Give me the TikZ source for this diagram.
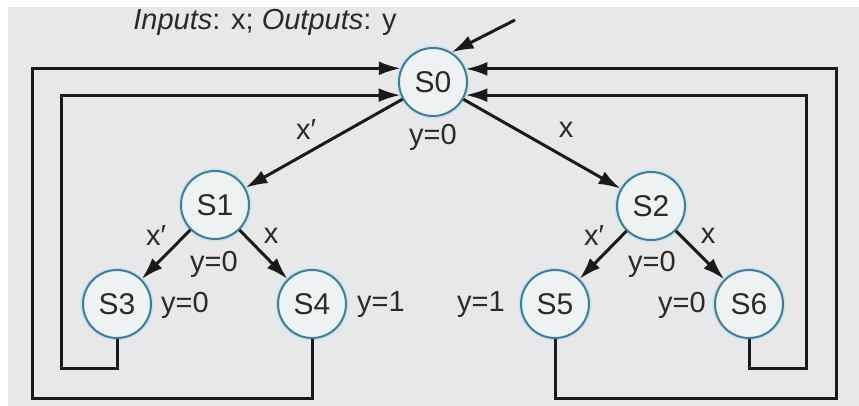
\documentclass[tikz,border=0pt]{standalone}
\usepackage{fontspec}
\setmainfont{Liberation Sans}
\usetikzlibrary{arrows.meta}
\definecolor{bggray}{HTML}{E8E8E8}
\definecolor{stateblue}{HTML}{3F7E99}
\definecolor{statefill}{HTML}{EEF2F3}
\definecolor{halo}{HTML}{C6E4EE}
\definecolor{textgray}{HTML}{2A2A2A}
\definecolor{wirecol}{HTML}{1A1A1A}
\begin{document}
\begin{tikzpicture}[x=1pt,y=-1pt,
  state/.style={circle, minimum size=68pt, inner sep=0pt, draw=stateblue,
    line width=2pt, fill=statefill, text=textgray,
    font=\fontsize{30}{32}\selectfont,
    preaction={draw=halo, line width=5pt}},
  lbl/.style={font=\fontsize{29}{31}\selectfont, text=textgray, inner sep=0pt},
  wire/.style={line width=3pt, draw=wirecol},
  arr/.style={wire, -{Latex[length=22pt,width=14pt]}}
]
% canvas and background
\useasboundingbox (0,0) rectangle (859,406);
\fill[white] (0,0) rectangle (859,406);
\fill[bggray] (8,7) rectangle (859,406);

% heading
\node[lbl] (title) at (265,22) {\textit{Inputs}: x; \textit{Outputs}: y};

% states
\node[state] (s0) at (433,82) {S0};
\node[state] (s1) at (215,205) {S1};
\node[state] (s2) at (651,206) {S2};
\node[state] (s3) at (117,304) {S3};
\node[state] (s4) at (312,304) {S4};
\node[state] (s5) at (555,304) {S5};
\node[state] (s6) at (749,304) {S6};

% outputs
\node[lbl] (o0) at (433,137) {y=0};
\node[lbl] (o1) at (214,264) {y=0};
\node[lbl] (o2) at (652,264) {y=0};
\node[lbl] (o3) at (185,305) {y=0};
\node[lbl] (o4) at (381,305) {y=1};
\node[lbl] (o5) at (481,305) {y=1};
\node[lbl] (o6) at (682,305) {y=0};

% initial transition
\coordinate (start) at (515,20);
\draw[arr] (start) -- (s0.58);

% transitions between states
\draw[arr] (s0) -- (s1);
\draw[arr] (s0) -- (s2);
\draw[arr] (s1) -- (s3);
\draw[arr] (s1) -- (s4);
\draw[arr] (s2) -- (s5);
\draw[arr] (s2) -- (s6);

% transition conditions
\node[lbl] (c01) at (306,130) {x′};
\node[lbl] (c02) at (566,130) {x};
\node[lbl] (c13) at (156,236) {x′};
\node[lbl] (c14) at (271,236) {x};
\node[lbl] (c25) at (594,236) {x′};
\node[lbl] (c26) at (708,236) {x};

% return paths to S0
\coordinate (li) at (61,368);
\coordinate (lo) at (32,398);
\coordinate (ri) at (806,368);
\coordinate (ro) at (836,398);
\draw[arr] (s3.south) |- (li) |- (s0.202.5);
\draw[arr] (s4.south) |- (lo) |- (s0.157.5);
\draw[arr] (s6.south) |- (ri) |- (s0.-22.5);
\draw[arr] (s5.south) |- (ro) |- (s0.22.5);
\end{tikzpicture}
\end{document}
